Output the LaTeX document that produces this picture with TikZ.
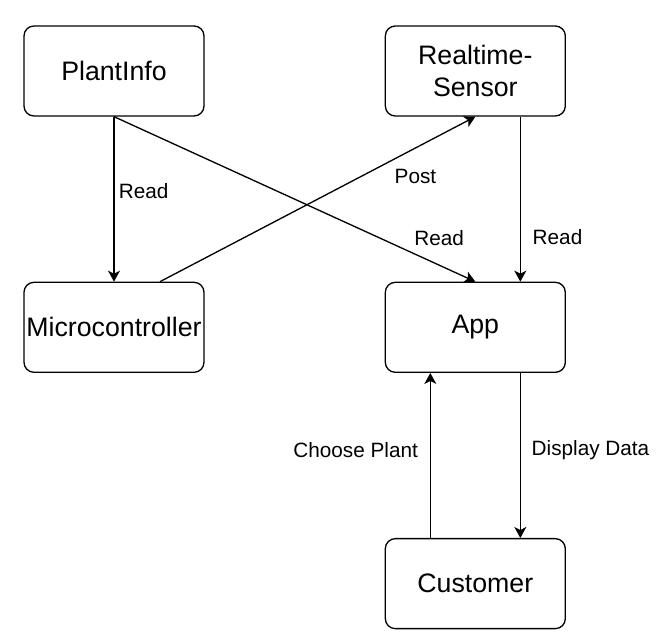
\documentclass[tikz,border=0pt]{standalone}
\usepackage{fontspec}
\setmainfont{Liberation Sans}
\usepackage{tikz}
\usetikzlibrary{arrows.meta,positioning}

\begin{document}
\begin{tikzpicture}[
  node distance=3.3cm and 3.6cm,
  caja/.style={rectangle, draw, rounded corners=0.2cm, line width=0.75pt,
               minimum width=3.6cm, minimum height=1.8cm, align=center,
               inner sep=0pt, font=\fontsize{15.2}{18.2}\selectfont},
  etiqueta/.style={font=\fontsize{11.8}{14}\selectfont, inner sep=1pt},
  flecha/.style={-{Stealth[length=0.22cm, width=0.24cm, inset=0.06cm]}, line width=0.75pt}
]
\useasboundingbox (0,0) rectangle (13.26,-12.82);

\node[caja] (plantinfo) at (2.28,-1.42) {PlantInfo};
\node[caja, right=of plantinfo] (sensor) {Realtime-\\Sensor};
\node[caja, below=of plantinfo] (micro) {Microcontroller};
\node[caja, below=of sensor] (app) {App};
\node[caja, below=of app] (customer) {Customer};

\draw[flecha] (plantinfo.south) -- node[etiqueta, right=0.05cm, pos=0.45] (lblplantmicro) {Read} (micro.north);
\draw[flecha] (plantinfo.south) -- node[etiqueta, above=0.34cm, pos=0.9] (lblplantapp) {Read} (app.north);
\draw[flecha] ([xshift=0.92cm]micro.north) -- node[etiqueta, below=0.38cm, pos=0.81] (lblpost) {Post} (sensor.south);
\draw[flecha] ([xshift=0.9cm]sensor.south) -- node[etiqueta, right=0.2cm, pos=0.73] (lblsensorapp) {Read} ([xshift=0.9cm]app.north);

\draw[flecha] ([xshift=0.9cm]app.south) -- node[etiqueta, right=0.18cm, pos=0.47] (lbldisplay) {Display Data} ([xshift=0.9cm]customer.north);
\draw[flecha] ([xshift=-0.9cm]customer.north) -- node[etiqueta, left=0.2cm, pos=0.53] (lblchoose) {Choose Plant} ([xshift=-0.9cm]app.south);
\end{tikzpicture}
\end{document}
